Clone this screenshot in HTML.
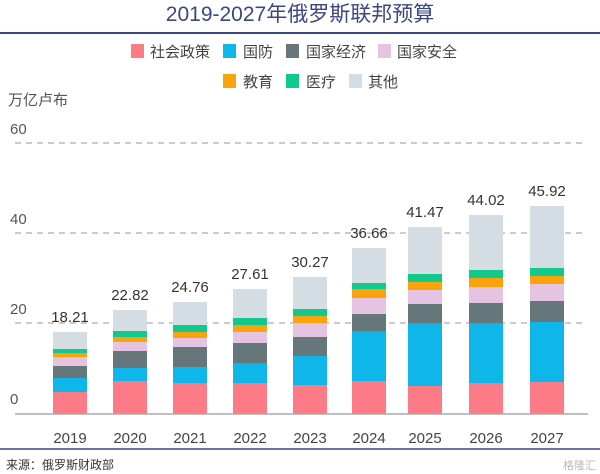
<!DOCTYPE html>
<html><head><meta charset="utf-8"><style>
html,body{margin:0;padding:0;background:#fff;}
svg{display:block;font-family:"Liberation Sans","Noto Sans CJK SC",sans-serif;}
</style></head><body>
<svg width="600" height="474" viewBox="0 0 600 474">
<text x="300" y="21" text-anchor="middle" font-size="21" fill="#3b4785">2019-2027年俄罗斯联邦预算</text>
<line x1="0" y1="33" x2="600" y2="33" stroke="#3b4785" stroke-width="2"/>
<g font-size="15" fill="#444">
<rect x="131" y="44" width="13" height="14" fill="#fd7b86"/><text x="150" y="57">社会政策</text>
<rect x="223" y="44" width="13" height="14" fill="#0eb6ea"/><text x="243" y="57">国防</text>
<rect x="286" y="44" width="13" height="14" fill="#66777c"/><text x="306" y="57">国家经济</text>
<rect x="378" y="44" width="13" height="14" fill="#e4c3e3"/><text x="397" y="57">国家安全</text>
<rect x="223" y="74" width="13" height="14" fill="#fba30c"/><text x="243" y="87">教育</text>
<rect x="286" y="74" width="13" height="14" fill="#10c98a"/><text x="306" y="87">医疗</text>
<rect x="349" y="74" width="13" height="14" fill="#d3dde3"/><text x="368" y="87">其他</text>
</g>
<g font-size="15" fill="#555">
<text x="8" y="105">万亿卢布</text>
<text x="10" y="134">60</text>
<text x="10" y="224">40</text>
<text x="10" y="314">20</text>
<text x="10" y="404">0</text>
</g>
<g stroke="#999" stroke-dasharray="6,5" stroke-width="1">
<line x1="15" y1="143" x2="586" y2="143"/>
<line x1="15" y1="233" x2="586" y2="233"/>
<line x1="15" y1="323" x2="586" y2="323"/>
</g>
<g id="bars"></g>
<line x1="15" y1="414" x2="588" y2="414" stroke="#aaa" stroke-width="1.5"/>
<g font-size="15" fill="#444" text-anchor="middle" id="yrs"></g>
<g font-size="15" fill="#333" text-anchor="middle" id="tots"></g>
<line x1="0" y1="449" x2="600" y2="449" stroke="#3b4785" stroke-width="1.5"/>
<text x="6" y="469" font-size="12" fill="#333">来源：俄罗斯财政部</text>
<text x="596" y="469" font-size="11" fill="#bbb" text-anchor="end">格隆汇</text>
</svg>
<script>
var cols=["#fd7b86","#0eb6ea","#66777c","#e4c3e3","#fba30c","#10c98a","#d3dde3"];
var d=[[392,378,366,357,353,349,332],[381,368,351,342,337,331,310],[383,367,347,338,332,325,302],[383,363,343,332,325,318,289],[385,356,337,323,316,309,277],[381,331,314,298,289,283,248],[386,323,304,290,282,274,227],[383,323,303,287,278,270,215],[382,322,301,284,276,268,206]];
var cx=[70,130,190,250,310,369,425,486,547];
var yrs=["2019","2020","2021","2022","2023","2024","2025","2026","2027"];
var tots=["18.21","22.82","24.76","27.61","30.27","36.66","41.47","44.02","45.92"];
var ns="http://www.w3.org/2000/svg",b=document.getElementById("bars"),Y=document.getElementById("yrs"),T=document.getElementById("tots");
d.forEach(function(s,i){var prev=414;s.forEach(function(t,j){var r=document.createElementNS(ns,"rect");r.setAttribute("x",cx[i]-17);r.setAttribute("width",34);r.setAttribute("y",t);r.setAttribute("height",prev-t);r.setAttribute("fill",cols[j]);b.appendChild(r);prev=t;});
var a=document.createElementNS(ns,"text");a.setAttribute("x",cx[i]);a.setAttribute("y",443);a.textContent=yrs[i];Y.appendChild(a);
var c=document.createElementNS(ns,"text");c.setAttribute("x",cx[i]);c.setAttribute("y",s[6]-10);c.textContent=tots[i];T.appendChild(c);});
</script>
</body></html>
